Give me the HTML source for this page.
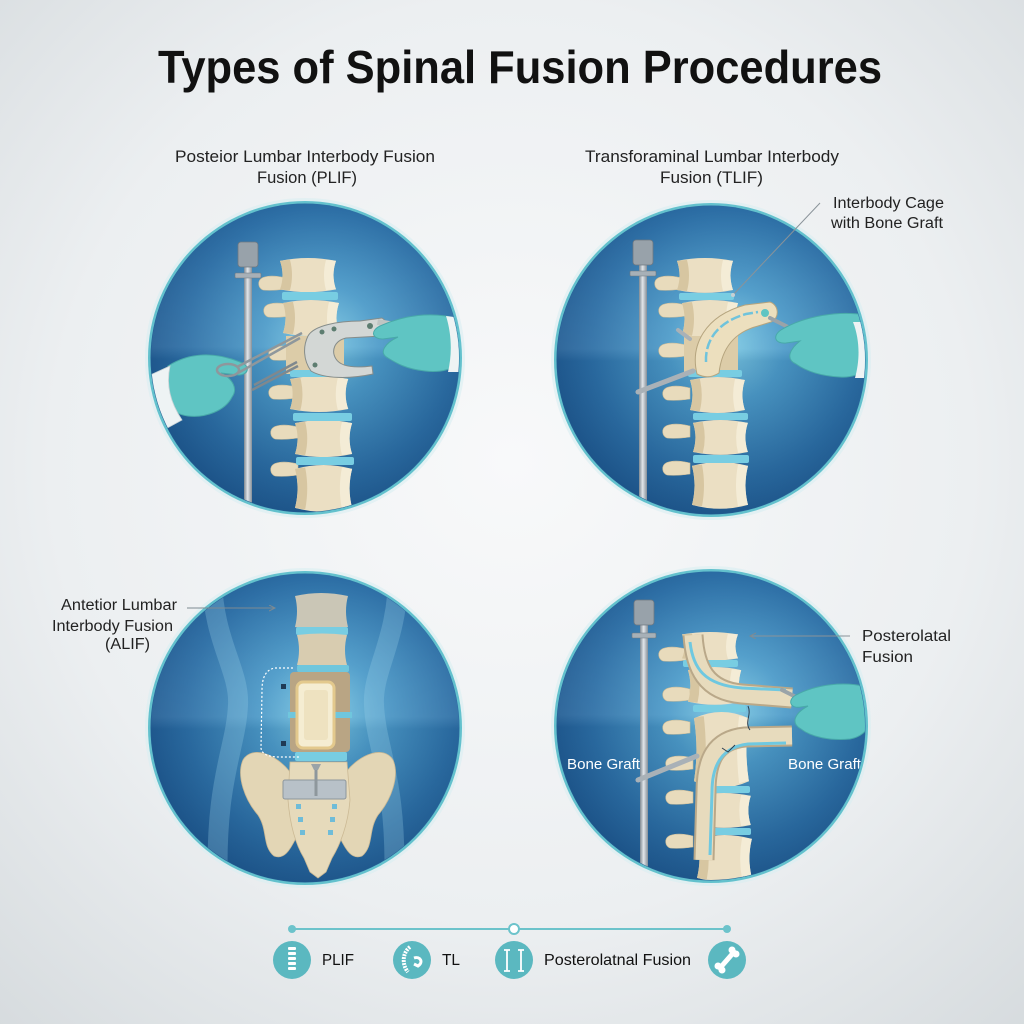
<!DOCTYPE html>
<html><head><meta charset="utf-8"><style>
html,body{margin:0;padding:0;width:1024px;height:1024px;overflow:hidden;background:#eef0f2}
svg{display:block}
text{font-family:"Liberation Sans",Arial,sans-serif}
</style></head><body>
<svg width="1024" height="1024" viewBox="0 0 1024 1024" xmlns="http://www.w3.org/2000/svg">
<defs>
<radialGradient id="bg" cx="0.5" cy="0.45" r="0.75">
<stop offset="0" stop-color="#f8f9fa"/><stop offset="0.6" stop-color="#eceff1"/><stop offset="1" stop-color="#d6dbde"/>
</radialGradient>
<radialGradient id="cg" cx="0.55" cy="0.45" r="0.62">
<stop offset="0" stop-color="#7fcbe4"/><stop offset="0.3" stop-color="#4d9bc9"/><stop offset="0.7" stop-color="#2c6ea5"/><stop offset="1" stop-color="#1b5289"/>
</radialGradient>
<linearGradient id="band" x1="0" y1="0" x2="0" y2="1">
<stop offset="0" stop-color="#ffffff" stop-opacity="0"/>
<stop offset="0.46" stop-color="#ffffff" stop-opacity="0.07"/>
<stop offset="0.5" stop-color="#06264a" stop-opacity="0.08"/>
<stop offset="1" stop-color="#06264a" stop-opacity="0.12"/>
</linearGradient>
<linearGradient id="rod" x1="0" x2="1" y1="0" y2="0">
<stop offset="0" stop-color="#7f8992"/><stop offset="0.45" stop-color="#e2e6ea"/><stop offset="1" stop-color="#858f98"/>
</linearGradient>
<clipPath id="c1"><circle cx="305" cy="358" r="154"/></clipPath>
<clipPath id="c2"><circle cx="711" cy="360" r="154"/></clipPath>
<clipPath id="c3"><circle cx="305" cy="728" r="154"/></clipPath>
<clipPath id="c4"><circle cx="711" cy="726" r="154"/></clipPath>
<g id="vb">
<path d="M0,3 Q28,-3 56,3 Q51,18 56,33 Q28,39 0,33 Q5,18 0,3Z" fill="#ebdfc3"/>
<path d="M0,3 Q5,18 0,33 Q6,34 10,34 Q14,18 10,2 Q5,2 0,3Z" fill="#d7c6a1"/>
<path d="M46,2 Q42,18 46,34 Q52,33 56,33 Q51,18 56,3 Q50,2 46,2Z" fill="#f4ecd6"/>
</g>
<g id="sp"><path d="M2,1 C-6,-1 -16,-2 -22,1 C-27,4 -26,11 -21,13 C-13,14 -5,13 2,12 Z" fill="#e8dbbc" stroke="#cdbb95" stroke-width="0.6"/></g>
<marker id="ah" markerWidth="8" markerHeight="8" refX="6" refY="3" orient="auto"><path d="M0,0 L6,3 L0,6" fill="none" stroke="#7d8a92" stroke-width="1"/></marker>
</defs>

<rect width="1024" height="1024" fill="url(#bg)"/>

<!-- Title -->
<text x="158" y="83" font-size="46" font-weight="bold" fill="#111" textLength="724" lengthAdjust="spacingAndGlyphs">Types of Spinal Fusion Procedures</text>

<!-- Subtitles -->
<text x="175" y="162" font-size="16.5" fill="#222" textLength="260" lengthAdjust="spacingAndGlyphs">Posteior Lumbar Interbody Fusion</text>
<text x="257" y="183" font-size="16.5" fill="#222" textLength="100" lengthAdjust="spacingAndGlyphs">Fusion (PLIF)</text>
<text x="585" y="162" font-size="16.5" fill="#222" textLength="254" lengthAdjust="spacingAndGlyphs">Transforaminal Lumbar Interbody</text>
<text x="660" y="183" font-size="16.5" fill="#222" textLength="103" lengthAdjust="spacingAndGlyphs">Fusion (TLIF)</text>
<text x="833" y="208" font-size="15.5" fill="#222" textLength="111" lengthAdjust="spacingAndGlyphs">Interbody Cage</text>
<text x="831" y="228" font-size="15.5" fill="#222" textLength="112" lengthAdjust="spacingAndGlyphs">with Bone Graft</text>
<text x="61" y="610" font-size="15.5" fill="#222" textLength="116" lengthAdjust="spacingAndGlyphs">Antetior Lumbar</text>
<text x="52" y="631" font-size="15.5" fill="#222" textLength="121" lengthAdjust="spacingAndGlyphs">Interbody Fusion</text>
<text x="105" y="649" font-size="15.5" fill="#222" textLength="45" lengthAdjust="spacingAndGlyphs">(ALIF)</text>
<text x="862" y="641" font-size="15.5" fill="#222" textLength="89" lengthAdjust="spacingAndGlyphs">Posterolatal</text>
<text x="862" y="662" font-size="15.5" fill="#222" textLength="51" lengthAdjust="spacingAndGlyphs">Fusion</text>

<!-- ============ CIRCLE 1: PLIF ============ -->
<circle cx="305" cy="358" r="160" fill="#d9eef2" opacity="0.6"/>
<circle cx="305" cy="358" r="157" fill="#63c1cd"/>
<circle cx="305" cy="358" r="154.5" fill="url(#cg)"/>
<g clip-path="url(#c1)">
<rect x="150" y="204" width="310" height="310" fill="url(#band)"/>
<rect x="244" y="266" width="8" height="250" fill="url(#rod)"/>
<rect x="238" y="242" width="20" height="25" rx="3" fill="#98a2aa" stroke="#6f7880" stroke-width="0.8"/>
<rect x="235" y="273" width="26" height="5" rx="1" fill="#a7b0b7" stroke="#6f7880" stroke-width="0.6"/>
<use href="#sp" transform="translate(284,277)"/>
<use href="#sp" transform="translate(289,304)"/>
<use href="#sp" transform="translate(294,347)"/>
<use href="#sp" transform="translate(294,386)"/>
<use href="#sp" transform="translate(296,426)"/>
<use href="#sp" transform="translate(296,463)"/>
<use href="#vb" transform="translate(280,258) scale(1,0.95)"/>
<use href="#vb" transform="translate(283,300) scale(1,1)"/>
<rect x="286" y="336" width="58" height="38" fill="#dccca8"/>
<use href="#vb" transform="translate(290,376) scale(1.04,1)"/>
<use href="#vb" transform="translate(295,420) scale(1.02,1.03)"/>
<use href="#vb" transform="translate(295,465) scale(1.02,1.3)"/>
<rect x="282" y="292" width="56" height="8" rx="2" fill="#78cde2"/>
<rect x="290" y="370" width="58" height="7" rx="2" fill="#78cde2"/>
<rect x="293" y="413" width="59" height="8" rx="2" fill="#78cde2"/>
<rect x="296" y="457" width="58" height="8" rx="2" fill="#78cde2"/>
<!-- retractor -->
<path d="M308,336 C314,325 340,321 360,321 L382,318 C390,323 388,333 382,336 L346,338 C334,341 331,351 336,359 C341,367 356,368 372,366 L373,374 C350,379 324,379 311,371 C303,360 303,346 308,336 Z" fill="#d3d7d5" stroke="#858c8a" stroke-width="1"/>
<circle cx="322" cy="332" r="2.5" fill="#5d7d70"/><circle cx="334" cy="329" r="2.5" fill="#5d7d70"/><circle cx="370" cy="326" r="3" fill="#5d7d70"/><circle cx="315" cy="365" r="2.5" fill="#5d7d70"/>
<rect x="378" y="319" width="16" height="6" fill="#bfc5c3" transform="rotate(10 378 319)"/>
<!-- left glove -->
<path d="M168,366 C190,352 215,352 240,362 C251,366 249,375 238,375 L221,373 C233,379 238,389 232,397 C225,411 205,418 188,416 C178,415 172,410 166,404 Z" fill="#5fc5c3" stroke="#48a9a9" stroke-width="1"/>
<path d="M148,376 L170,366 C166,385 170,402 182,420 L160,432 C150,412 148,394 148,376 Z" fill="#eef3f4" stroke="#c9d3d6" stroke-width="0.8"/>
<!-- scissors / forceps -->
<ellipse cx="228" cy="370" rx="11" ry="6" fill="none" stroke="#8e979c" stroke-width="2.5"/>
<path d="M237,367 L302,333 M238,373 L300,338" stroke="#8e979c" stroke-width="2.5" fill="none"/>
<path d="M252,390 L298,366 M254,385 L297,362" stroke="#7f888e" stroke-width="2.5" fill="none"/>
<!-- right glove -->
<path d="M462,320 C432,310 402,316 380,326 C370,331 372,339 383,339 L398,337 C385,343 378,353 388,358 C396,363 406,369 425,371 C442,373 452,369 462,362 Z" fill="#5fc5c3" stroke="#48a9a9" stroke-width="1"/>
<path d="M446,316 L462,318 L462,372 L448,372 C452,355 452,335 446,316 Z" fill="#eef3f4"/>
</g>

<!-- ============ CIRCLE 2: TLIF ============ -->
<circle cx="711" cy="360" r="160" fill="#d9eef2" opacity="0.6"/>
<circle cx="711" cy="360" r="157" fill="#63c1cd"/>
<circle cx="711" cy="360" r="154.5" fill="url(#cg)"/>
<g clip-path="url(#c2)">
<rect x="556" y="206" width="310" height="310" fill="url(#band)"/>
<rect x="639" y="264" width="8" height="250" fill="url(#rod)"/>
<rect x="633" y="240" width="20" height="25" rx="3" fill="#98a2aa" stroke="#6f7880" stroke-width="0.8"/>
<rect x="630" y="271" width="26" height="5" rx="1" fill="#a7b0b7" stroke="#6f7880" stroke-width="0.6"/>
<use href="#sp" transform="translate(680,277)"/>
<use href="#sp" transform="translate(684,304)"/>
<use href="#sp" transform="translate(684,344)"/>
<use href="#sp" transform="translate(688,387)"/>
<use href="#sp" transform="translate(688,425)"/>
<use href="#sp" transform="translate(688,462)"/>
<use href="#vb" transform="translate(677,258) scale(1,0.97)"/>
<use href="#vb" transform="translate(682,300) scale(1,1.05)"/>
<rect x="684" y="336" width="54" height="36" fill="#dccca8"/>
<use href="#vb" transform="translate(690,377) scale(0.98,1)"/>
<use href="#vb" transform="translate(693,420) scale(0.98,0.97)"/>
<use href="#vb" transform="translate(692,462) scale(1,1.3)"/>
<rect x="679" y="293" width="55" height="7" rx="2" fill="#78cde2"/>
<rect x="688" y="370" width="54" height="7" rx="2" fill="#78cde2"/>
<rect x="693" y="413" width="55" height="7" rx="2" fill="#78cde2"/>
<rect x="693" y="455" width="56" height="8" rx="2" fill="#78cde2"/>
<path d="M697,374 C690,345 705,316 745,305 L770,302 C779,305 780,318 771,322 L758,326 C735,332 722,347 719,373 Q708,380 697,374 Z" fill="#ecdfbe" stroke="#b5a47e" stroke-width="1"/>
<path d="M706,362 C705,340 718,322 746,314 L758,312" stroke="#6fc3dc" stroke-width="2.5" fill="none" stroke-dasharray="10,3"/>
<circle cx="765" cy="313" r="4" fill="#5fc5c3"/>
<path d="M770,318 L800,333" stroke="#9aa3a8" stroke-width="4" stroke-linecap="round"/>
<path d="M870,316 C840,309 802,317 781,330 C772,336 775,344 786,343 L800,341 C790,349 785,359 796,364 C806,371 821,376 840,377 C854,378 863,373 870,366 Z" fill="#5fc5c3" stroke="#48a9a9" stroke-width="1"/>
<path d="M853,322 L870,322 L870,378 L855,378 C860,360 860,340 853,322 Z" fill="#eef3f4"/>
<path d="M638,392 L693,371" stroke="#a9b1b7" stroke-width="5" stroke-linecap="round"/>
<path d="M678,330 L690,339" stroke="#a9b1b7" stroke-width="4" stroke-linecap="round"/>
</g>
<path d="M820,203 L733,295" stroke="#8a9399" stroke-width="1" fill="none"/>
<circle cx="733" cy="295" r="2" fill="#c8d0d4"/>

<!-- ============ CIRCLE 3: ALIF ============ -->
<circle cx="305" cy="728" r="160" fill="#d9eef2" opacity="0.6"/>
<circle cx="305" cy="728" r="157" fill="#63c1cd"/>
<circle cx="305" cy="728" r="154.5" fill="url(#cg)"/>
<g clip-path="url(#c3)">
<rect x="150" y="574" width="310" height="310" fill="url(#band)"/>
<path d="M212,575 C212,640 240,670 238,705 C236,750 214,780 218,890" stroke="#9fd4ea" stroke-opacity="0.28" stroke-width="20" fill="none"/>
<path d="M398,575 C398,640 372,670 374,705 C376,750 398,780 394,890" stroke="#9fd4ea" stroke-opacity="0.28" stroke-width="20" fill="none"/>
<path d="M295,596 Q321,590 348,596 Q344,611 348,627 Q321,631 295,627 Q299,611 295,596Z" fill="#cac6b6"/>
<rect x="296" y="627" width="52" height="8" rx="2" fill="#78cde2"/>
<path d="M297,635 Q322,632 347,635 Q343,650 347,665 Q322,668 297,665 Q301,650 297,635Z" fill="#d8ccb0"/>
<rect x="297" y="665" width="52" height="7" rx="2" fill="#6fc6dd"/>
<rect x="290" y="672" width="60" height="80" rx="4" fill="#b9a584"/>
<rect x="288" y="712" width="64" height="6" fill="#6fc6dd"/>
<rect x="297" y="682" width="37" height="66" rx="6" fill="#f5edd2" stroke="#e3c98d" stroke-width="3"/>
<rect x="304" y="690" width="24" height="50" rx="3" fill="#eee2c0"/>
<rect x="295" y="752" width="52" height="9" rx="2" fill="#78cde2"/>
<path d="M290,772 C276,754 252,745 243,760 C236,776 245,800 258,815 C268,830 262,846 274,856 C284,860 290,850 296,838 Z" fill="#e3d6b5" stroke="#cbb994" stroke-width="0.8"/>
<path d="M346,772 C360,754 384,745 393,760 C400,776 391,800 378,815 C368,830 374,846 362,856 C352,860 346,850 340,838 Z" fill="#e3d6b5" stroke="#cbb994" stroke-width="0.8"/>
<path d="M290,762 L347,762 L350,800 C348,825 340,845 332,858 L326,872 L318,878 L310,872 L304,858 C296,845 290,825 288,800 Z" fill="#e6dabb" stroke="#cbb994" stroke-width="0.8"/>
<rect x="296" y="804" width="5" height="5" fill="#6fbcd8"/><rect x="332" y="804" width="5" height="5" fill="#6fbcd8"/>
<rect x="298" y="817" width="5" height="5" fill="#6fbcd8"/><rect x="330" y="817" width="5" height="5" fill="#6fbcd8"/>
<rect x="300" y="830" width="5" height="5" fill="#6fbcd8"/><rect x="328" y="830" width="5" height="5" fill="#6fbcd8"/>
<rect x="283" y="780" width="63" height="19" rx="2" fill="#b8c1c8" stroke="#8d969c" stroke-width="1"/>
<path d="M316,764 L316,796" stroke="#8e979c" stroke-width="3"/>
<path d="M311,764 L321,764 L318,770 L314,770Z" fill="#9aa3a8"/>
<path d="M293,668 L275,668 Q262,670 262,690 L261,748 Q262,757 280,757 L300,757" stroke="#ffffff" stroke-width="1.2" stroke-dasharray="2,2" fill="none"/>
<rect x="281" y="684" width="5" height="5" fill="#1f3a55"/>
<rect x="281" y="741" width="5" height="5" fill="#1f3a55"/>
</g>
<path d="M187,608 L275,608" stroke="#7d8a92" stroke-width="1" fill="none" marker-end="url(#ah)"/>

<!-- ============ CIRCLE 4: Posterolateral ============ -->
<circle cx="711" cy="726" r="160" fill="#d9eef2" opacity="0.6"/>
<circle cx="711" cy="726" r="157" fill="#63c1cd"/>
<circle cx="711" cy="726" r="154.5" fill="url(#cg)"/>
<g clip-path="url(#c4)">
<rect x="556" y="572" width="310" height="310" fill="url(#band)"/>
<rect x="640" y="624" width="8" height="260" fill="url(#rod)"/>
<rect x="634" y="600" width="20" height="25" rx="3" fill="#98a2aa" stroke="#6f7880" stroke-width="0.8"/>
<rect x="632" y="633" width="24" height="5" rx="1" fill="#a7b0b7" stroke="#6f7880" stroke-width="0.6"/>
<use href="#sp" transform="translate(684,648)"/>
<use href="#sp" transform="translate(688,688)"/>
<use href="#sp" transform="translate(688,721)"/>
<use href="#sp" transform="translate(691,757)"/>
<use href="#sp" transform="translate(691,791)"/>
<use href="#sp" transform="translate(691,835)"/>
<use href="#vb" transform="translate(682,632) scale(1,0.8)"/>
<use href="#vb" transform="translate(688,667) scale(0.95,1.05)"/>
<use href="#vb" transform="translate(694,712) scale(0.98,2.1)"/>
<use href="#vb" transform="translate(697,793) scale(0.96,0.97)"/>
<use href="#vb" transform="translate(697,835) scale(0.98,1.3)"/>
<rect x="683" y="660" width="55" height="7" rx="2" fill="#78cde2"/>
<rect x="693" y="705" width="53" height="7" rx="2" fill="#78cde2"/>
<rect x="697" y="786" width="53" height="7" rx="2" fill="#78cde2"/>
<rect x="697" y="828" width="54" height="7" rx="2" fill="#78cde2"/>
<path d="M693,635 C695,668 706,691 742,694 L792,698" stroke="#b9a889" stroke-width="21" fill="none"/>
<path d="M693,635 C695,668 706,691 742,694 L792,698" stroke="#e7dbbd" stroke-width="17" fill="none"/>
<path d="M690,642 C693,668 704,685 742,688 L786,690" stroke="#6fc8e0" stroke-width="3" fill="none"/>
<path d="M792,736 L745,737 C715,740 706,760 706,792 L704,860" stroke="#b9a889" stroke-width="21" fill="none"/>
<path d="M792,736 L745,737 C715,740 706,760 706,792 L704,860" stroke="#e7dbbd" stroke-width="17" fill="none"/>
<path d="M786,743 L748,744 C722,747 712,765 712,792 L710,855" stroke="#6fc8e0" stroke-width="3" fill="none"/>
<path d="M748,706 C752,715 744,722 750,730" stroke="#2c3e4f" stroke-width="1" fill="none"/>
<path d="M722,748 L728,752 L735,745" stroke="#2c3e4f" stroke-width="1" fill="none"/>
<path d="M782,690 L806,702" stroke="#9aa3a8" stroke-width="4" stroke-linecap="round"/>
<path d="M870,688 C845,680 815,685 796,695 C787,700 790,709 801,707 L808,706 C795,713 790,723 801,729 C811,737 831,741 850,739 C861,737 866,731 870,725 Z" fill="#5fc5c3" stroke="#48a9a9" stroke-width="1"/>
<path d="M638,780 L697,756" stroke="#a9b1b7" stroke-width="5" stroke-linecap="round"/>
<text x="567" y="769" font-size="15" fill="#ffffff" textLength="73" lengthAdjust="spacingAndGlyphs">Bone Graft</text>
<text x="788" y="769" font-size="15" fill="#ffffff" textLength="73" lengthAdjust="spacingAndGlyphs">Bone Graft</text>
</g>
<path d="M850,636 L750,636" stroke="#8a9399" stroke-width="1" fill="none" marker-end="url(#ah)"/>

<!-- ============ LEGEND ============ -->
<path d="M292,929 L727,929" stroke="#6cc3cb" stroke-width="2"/>
<circle cx="292" cy="929" r="4" fill="#6cc3cb"/>
<circle cx="727" cy="929" r="4" fill="#6cc3cb"/>
<circle cx="514" cy="929" r="5" fill="#ffffff" stroke="#6cc3cb" stroke-width="2"/>

<circle cx="292" cy="960" r="19" fill="#5bb8c0"/>
<g fill="#ffffff">
<rect x="288" y="947" width="8" height="3" rx="1"/><rect x="288" y="952" width="8" height="3" rx="1"/><rect x="288" y="957" width="8" height="3" rx="1"/>
<rect x="288" y="962" width="8" height="3" rx="1"/><rect x="288" y="967" width="8" height="3" rx="1"/>
</g>
<circle cx="412" cy="960" r="19" fill="#5bb8c0"/>
<path d="M410,947 C402,953 402,965 408,972" stroke="#ffffff" stroke-width="4" fill="none" stroke-dasharray="2,1"/>
<path d="M414,958 C420,956 424,962 418,966 L414,964" stroke="#ffffff" stroke-width="3" fill="none"/>
<circle cx="514" cy="960" r="19" fill="#5bb8c0"/>
<path d="M507,950 L507,971 M521,950 L521,971 M504,950 L510,950 M518,950 L524,950 M504,971 L510,971 M518,971 L524,971" stroke="#ffffff" stroke-width="1.8" fill="none"/>
<circle cx="727" cy="960" r="19" fill="#5bb8c0"/>
<path d="M720,968 L734,952" stroke="#ffffff" stroke-width="5" stroke-linecap="round"/>
<circle cx="718" cy="966" r="3.5" fill="#fff"/><circle cx="722" cy="970" r="3.5" fill="#fff"/>
<circle cx="732" cy="950" r="3.5" fill="#fff"/><circle cx="736" cy="954" r="3.5" fill="#fff"/>

<text x="322" y="965" font-size="16" fill="#111" textLength="32" lengthAdjust="spacingAndGlyphs">PLIF</text>
<text x="442" y="965" font-size="16" fill="#111" textLength="18" lengthAdjust="spacingAndGlyphs">TL</text>
<text x="544" y="965" font-size="16" fill="#111" textLength="147" lengthAdjust="spacingAndGlyphs">Posterolatnal Fusion</text>
</svg>
</body></html>
